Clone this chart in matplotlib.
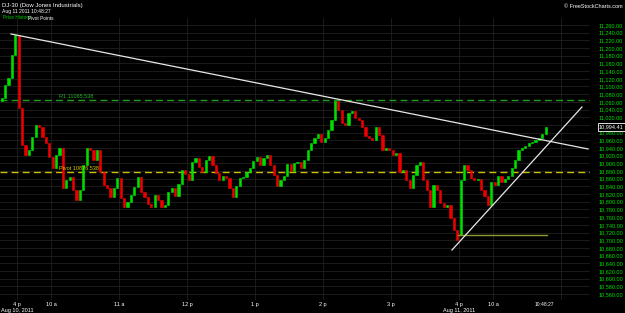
import numpy as np
import matplotlib
matplotlib.use("Agg")
import matplotlib.pyplot as plt
from matplotlib.ticker import FuncFormatter
import matplotlib.transforms as mtransforms

# 字体设置
plt.rcParams["font.family"] = ["Liberation Sans", "DejaVu Sans"]

# ---- 数据：3分钟K线收盘价 ----
bar_minutes = 3
aug9_open = 11063
aug9_close = [11070, 11104, 11122, 11182, 11234]
aug10_close = [
    11044, 10948, 10922, 10935, 10969, 11000, 10995, 10969, 10953, 10917,
    10888, 10922, 10940, 10836, 10857, 10864, 10831, 10805, 10831, 10896,
    10940, 10935, 10909, 10935, 10878, 10844, 10836, 10812, 10836, 10862,
    10810, 10786, 10799, 10818, 10838, 10864, 10825, 10812, 10794, 10786,
    10818, 10805, 10786, 10792, 10825, 10836, 10815, 10846, 10883, 10872,
    10857, 10904, 10914, 10891, 10878, 10909, 10919, 10896, 10875, 10857,
    10867, 10862, 10836, 10812, 10841, 10862, 10864, 10878, 10888, 10906,
    10917, 10896, 10914, 10922, 10896, 10870, 10841, 10857, 10867, 10898,
    10880, 10901, 10904, 10888, 10909, 10935, 10953, 10966, 10976, 10956,
    10966, 10987, 11013, 11062, 11039, 11005, 11000, 11031, 11036, 11018,
    11013, 10995, 10971, 10966, 10961, 10995, 10974, 10935, 10940, 10935,
    10922, 10927, 10878, 10883, 10857, 10836, 10870, 10896, 10904, 10857,
    10831, 10786, 10844, 10831, 10797, 10786, 10792, 10758, 10727, 10701,
]
aug11_open = 10714
aug11_close = [
    10857, 10896, 10883, 10862, 10857, 10860, 10831, 10815, 10792, 10851,
    10844, 10867, 10851, 10859, 10867, 10888, 10909, 10935, 10940, 10945,
    10953, 10956, 10961, 10966, 10976, 10994.41,
]

r1_level = 11065.538
pivot_level = 10876.538
support_level = 10714
support_span = [389, 468]
last_price = 10994.41

# 趋势线端点（分钟, 价格）
down_trend_t = [-5.3, 503.8]
down_trend_p = [11236.6, 10937.4]
up_trend_t = [383.8, 498.5]
up_trend_p = [10674.5, 11046.6]

tick_minutes = [0, 30, 90, 150, 210, 270, 330, 390, 420, 480]
tick_labels = ["4 p", "10 a", "11 a", "12 p", "1 p", "2 p", "3 p", "4 p", "10 a", ""]
price_ticks = np.arange(10560, 11261, 20)

# ---- 组装K线 ----
closes = np.array(aug9_close + aug10_close + aug11_close, dtype=float)
opens = np.empty_like(closes)
opens[0] = aug9_open
opens[1:] = closes[:-1]
opens[len(aug9_close) + len(aug10_close)] = aug11_open
start_t = -len(aug9_close) * bar_minutes
centers = start_t + bar_minutes * np.arange(len(closes)) + bar_minutes / 2

up = closes >= opens
colors = np.where(up, "#00e000", "#ee0000")

fig = plt.figure(figsize=(6.25, 3.13), dpi=100, facecolor="black")
ax = fig.add_axes([0, 13 / 313, 590 / 625, 282 / 313])
ax.set_facecolor("black")
for s in ax.spines.values():
    s.set_visible(False)

ax.set_xlim(-15, 505.6)
ax.set_ylim(10544.4, 11278.2)

# 网格
ax.set_yticks(price_ticks)
ax.set_xticks(tick_minutes)
ax.set_xticklabels(tick_labels)
ax.grid(True, color="#202020", lw=0.6)
ax.set_axisbelow(True)

# K线
ax.bar(centers, np.abs(closes - opens), bottom=np.minimum(opens, closes),
       width=bar_minutes * 0.6, color=colors, edgecolor=colors, lw=0.4, zorder=3)

# 枢轴点
ax.axhline(r1_level, color="#1fa01f", lw=1, ls=(0, (5, 3)), zorder=2)
ax.axhline(pivot_level, color="#c8c000", lw=1, ls=(0, (5, 3)), zorder=2)
ax.text(37, r1_level + 3, "R1 11065.538", color="#22b022", fontsize=4, va="bottom", zorder=4)
ax.text(37, pivot_level + 3, "Pivot 10876.538", color="#d8d000", fontsize=4, va="bottom", zorder=4)

# 支撑线和趋势线
ax.plot(support_span, [support_level, support_level], color="#8f9a30", lw=1, zorder=4)
ax.plot(down_trend_t, down_trend_p, color="#e8e8e8", lw=0.9, zorder=5)
ax.plot(up_trend_t, up_trend_p, color="#e8e8e8", lw=0.9, zorder=5)


# 坐标轴刻度（最新价格标签处的刻度被遮住）
def price_fmt(v, pos):
    if abs(v - last_price) < 10:
        return ""
    return f"{v:,.2f}"


ax.yaxis.tick_right()
ax.yaxis.set_major_formatter(FuncFormatter(price_fmt))
ax.tick_params(axis="y", length=0, labelsize=4, labelcolor="#00e000", pad=6.5)
ax.tick_params(axis="x", length=0, labelsize=4, labelcolor="white", pad=1.5)

trans = mtransforms.blended_transform_factory(ax.transData, ax.transAxes)
ax.text(0, -0.038, "Aug 10, 2011", transform=trans, color="white", fontsize=4,
        ha="center", va="center", clip_on=False)
ax.text(390, -0.038, "Aug 11, 2011", transform=trans, color="white", fontsize=4,
        ha="center", va="center", clip_on=False)
ax.text(465, -0.015, "10:48:27", transform=trans, color="white", fontsize=3.6,
        ha="center", va="center", clip_on=False)

# 最新价格标签
ytrans = mtransforms.blended_transform_factory(ax.transAxes, ax.transData)
ax.text(1.0153, last_price, f"{last_price:,.2f}", transform=ytrans, color="white",
        fontsize=4, ha="left", va="center", clip_on=False, zorder=10,
        bbox=dict(boxstyle="square,pad=0.2", fc="black", ec="white", lw=0.6))

# 标题文字
fig.text(2 / 625, 1 - 5 / 313, "DJ-30 (Dow Jones Industrials)", color="white",
         fontsize=4.3, va="center")
fig.text(2 / 625, 1 - 11 / 313, "Aug 11 2011 10:48:27", color="white",
         fontsize=3.6, va="center")
fig.text(3 / 625, 1 - 18 / 313, "Price History", color="#00d000", fontsize=3.4, va="center")
fig.text(28 / 625, 1 - 18 / 313, "Pivot Points", color="white", fontsize=3.4, va="center")
fig.text(623 / 625, 1 - 6 / 313, "\u00a9 FreeStockCharts.com", color="white",
         fontsize=4, ha="right", va="center")

fig.savefig("out.png", dpi=100, facecolor="black")
